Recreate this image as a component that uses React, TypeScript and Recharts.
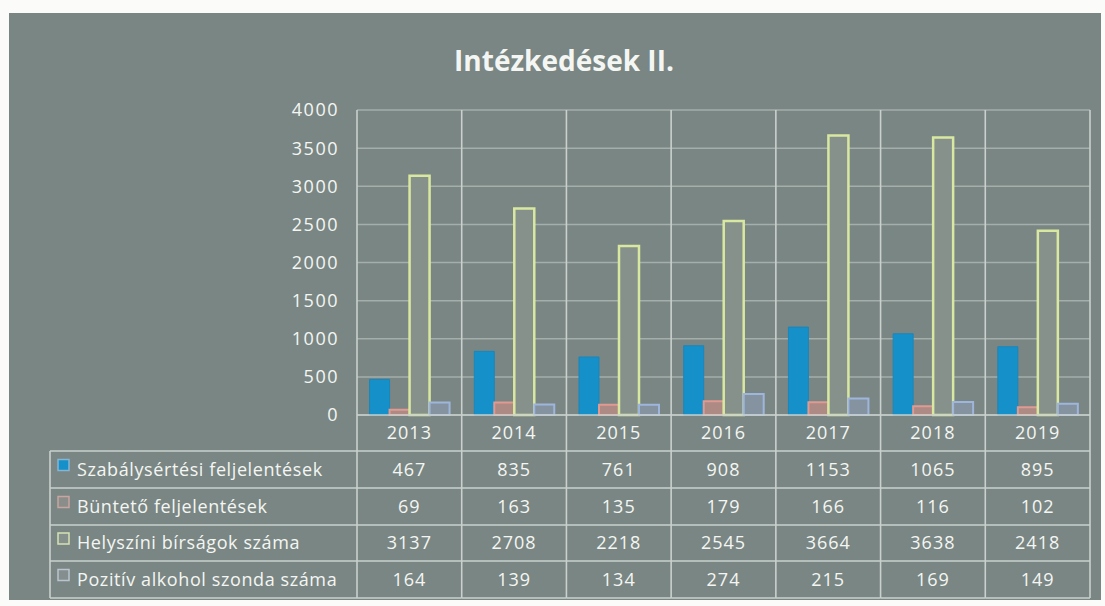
import { Bar, BarChart, CartesianGrid, XAxis, YAxis } from "recharts";

const years = ["2013", "2014", "2015", "2016", "2017", "2018", "2019"];
const szabalysertesi = [467, 835, 761, 908, 1153, 1065, 895];
const bunteto = [69, 163, 135, 179, 166, 116, 102];
const helyszini = [3137, 2708, 2218, 2545, 3664, 3638, 2418];
const pozitiv = [164, 139, 134, 274, 215, 169, 149];
const seriesNames = [
  "Szabálysértési feljelentések",
  "Büntető feljelentések",
  "Helyszíni bírságok száma",
  "Pozitív alkohol szonda száma",
];
const yTicks = [0, 500, 1000, 1500, 2000, 2500, 3000, 3500, 4000];

const data = years.map((year, i) => ({
  year,
  szab: szabalysertesi[i],
  bunt: bunteto[i],
  hely: helyszini[i],
  poz: pozitiv[i],
}));
const columns = [szabalysertesi, bunteto, helyszini, pozitiv];

const W = 1105;
const H = 606;
const PLOT_LEFT = 357;
const PLOT_RIGHT = 1090;
const PLOT_TOP = 110;
const ROWS = [415, 451, 488, 525, 561, 598];
const LEGEND_LEFT = 50;
const YAXIS_W = 60;
const BAND = (PLOT_RIGHT - PLOT_LEFT) / years.length;

const BG = "#7a8683";
const LINE = "#c9d0cd";
const GRID = "#a4aeab";
const TXT = "#f4f6f3";
const FONT = "'Open Sans', sans-serif";

const markers = [
  { fill: "#1590c8", stroke: "#86b4d4" },
  { fill: "#8a8e8a", stroke: "#c9a4a0" },
  { fill: "#858f8b", stroke: "#d6e2b4" },
  { fill: "#848e8e", stroke: "#b9c4cf" },
];

function TableColumn(props: any) {
  const { x, payload, index } = props;
  const i = index as number;
  const left = x - BAND / 2;
  const right = x + BAND / 2;
  const mid = (a: number, b: number) => (a + b) / 2 + 6;
  return (
    <g>
      <line x1={left} x2={left} y1={PLOT_TOP} y2={ROWS[5]} stroke={LINE} strokeWidth={1.6} />
      {i === years.length - 1 && (
        <line x1={right} x2={right} y1={PLOT_TOP} y2={ROWS[5]} stroke={LINE} strokeWidth={1.6} />
      )}
      {ROWS.map((r) => (
        <line key={r} x1={left} x2={right} y1={r} y2={r} stroke={LINE} strokeWidth={1.6} />
      ))}
      <text x={x} y={mid(ROWS[0], ROWS[1])} textAnchor="middle" fill={TXT} fontSize={18} letterSpacing={1} fontFamily={FONT}>
        {payload.value}
      </text>
      {columns.map((col, r) => (
        <text
          key={r}
          x={x}
          y={mid(ROWS[r + 1], ROWS[r + 2])}
          textAnchor="middle"
          fill={TXT}
          fontSize={18}
          letterSpacing={1}
          fontFamily={FONT}
        >
          {col[i]}
        </text>
      ))}
      {i === 0 && (
        <g>
          <line x1={LEGEND_LEFT} x2={LEGEND_LEFT} y1={ROWS[1]} y2={ROWS[5]} stroke={LINE} strokeWidth={1.6} />
          {ROWS.slice(1).map((r) => (
            <line key={r} x1={LEGEND_LEFT} x2={left} y1={r} y2={r} stroke={LINE} strokeWidth={1.6} />
          ))}
          {seriesNames.map((name, r) => (
            <g key={name}>
              <rect
                x={LEGEND_LEFT + 8}
                y={mid(ROWS[r + 1], ROWS[r + 2]) - 16}
                width={11}
                height={11}
                fill={markers[r].fill}
                stroke={markers[r].stroke}
                strokeWidth={1.5}
              />
              <text
                x={LEGEND_LEFT + 27}
                y={mid(ROWS[r + 1], ROWS[r + 2])}
                fill={TXT}
                fontSize={18}
                letterSpacing={0.6}
                fontFamily={FONT}
              >
                {name}
              </text>
            </g>
          ))}
        </g>
      )}
    </g>
  );
}

export default function App() {
  return (
    <div style={{ position: "absolute", left: 0, top: 0, width: W, height: H, background: "#fbfbfa" }}>
      <div style={{ position: "absolute", left: 9, top: 13, width: 1092, height: 587, background: BG }} />
      <div
        style={{
          position: "absolute",
          left: 0,
          top: 42,
          width: 1128,
          textAlign: "center",
          color: TXT,
          fontFamily: FONT,
          fontWeight: 700,
          fontSize: 28,
          lineHeight: "36px",
        }}
      >
        Intézkedések II.
      </div>
      <div style={{ position: "absolute", left: 0, top: 0 }}>
        <BarChart
          width={W}
          height={H}
          data={data}
          margin={{ top: PLOT_TOP, right: W - PLOT_RIGHT, bottom: H - ROWS[5], left: PLOT_LEFT - YAXIS_W }}
          barCategoryGap="12%"
          barGap={0}
        >
          <CartesianGrid vertical={false} stroke={GRID} strokeWidth={1.5} />
          <XAxis
            dataKey="year"
            height={ROWS[5] - ROWS[0]}
            axisLine={false}
            tickLine={false}
            tickSize={0}
            tickMargin={0}
            interval={0}
            tick={(p: any) => <TableColumn {...p} />}
          />
          <YAxis
            width={YAXIS_W}
            domain={[0, 4000]}
            ticks={yTicks}
            axisLine={false}
            tickLine={false}
            tickSize={6}
            tickMargin={12}
            tick={{ fill: TXT, fontSize: 18, fontFamily: FONT, letterSpacing: 1.5 }}
          />
          <Bar dataKey="szab" fill="#1590c8" stroke="#1a86bb" strokeWidth={1} isAnimationActive={false} />
          <Bar dataKey="bunt" fill="#ae8a84" stroke="#e09a92" strokeWidth={2} isAnimationActive={false} />
          <Bar dataKey="hely" fill="#86918c" stroke="#d9e8a0" strokeWidth={2.5} isAnimationActive={false} />
          <Bar dataKey="poz" fill="#8592a0" stroke="#9fb6dc" strokeWidth={2} isAnimationActive={false} />
        </BarChart>
      </div>
    </div>
  );
}
